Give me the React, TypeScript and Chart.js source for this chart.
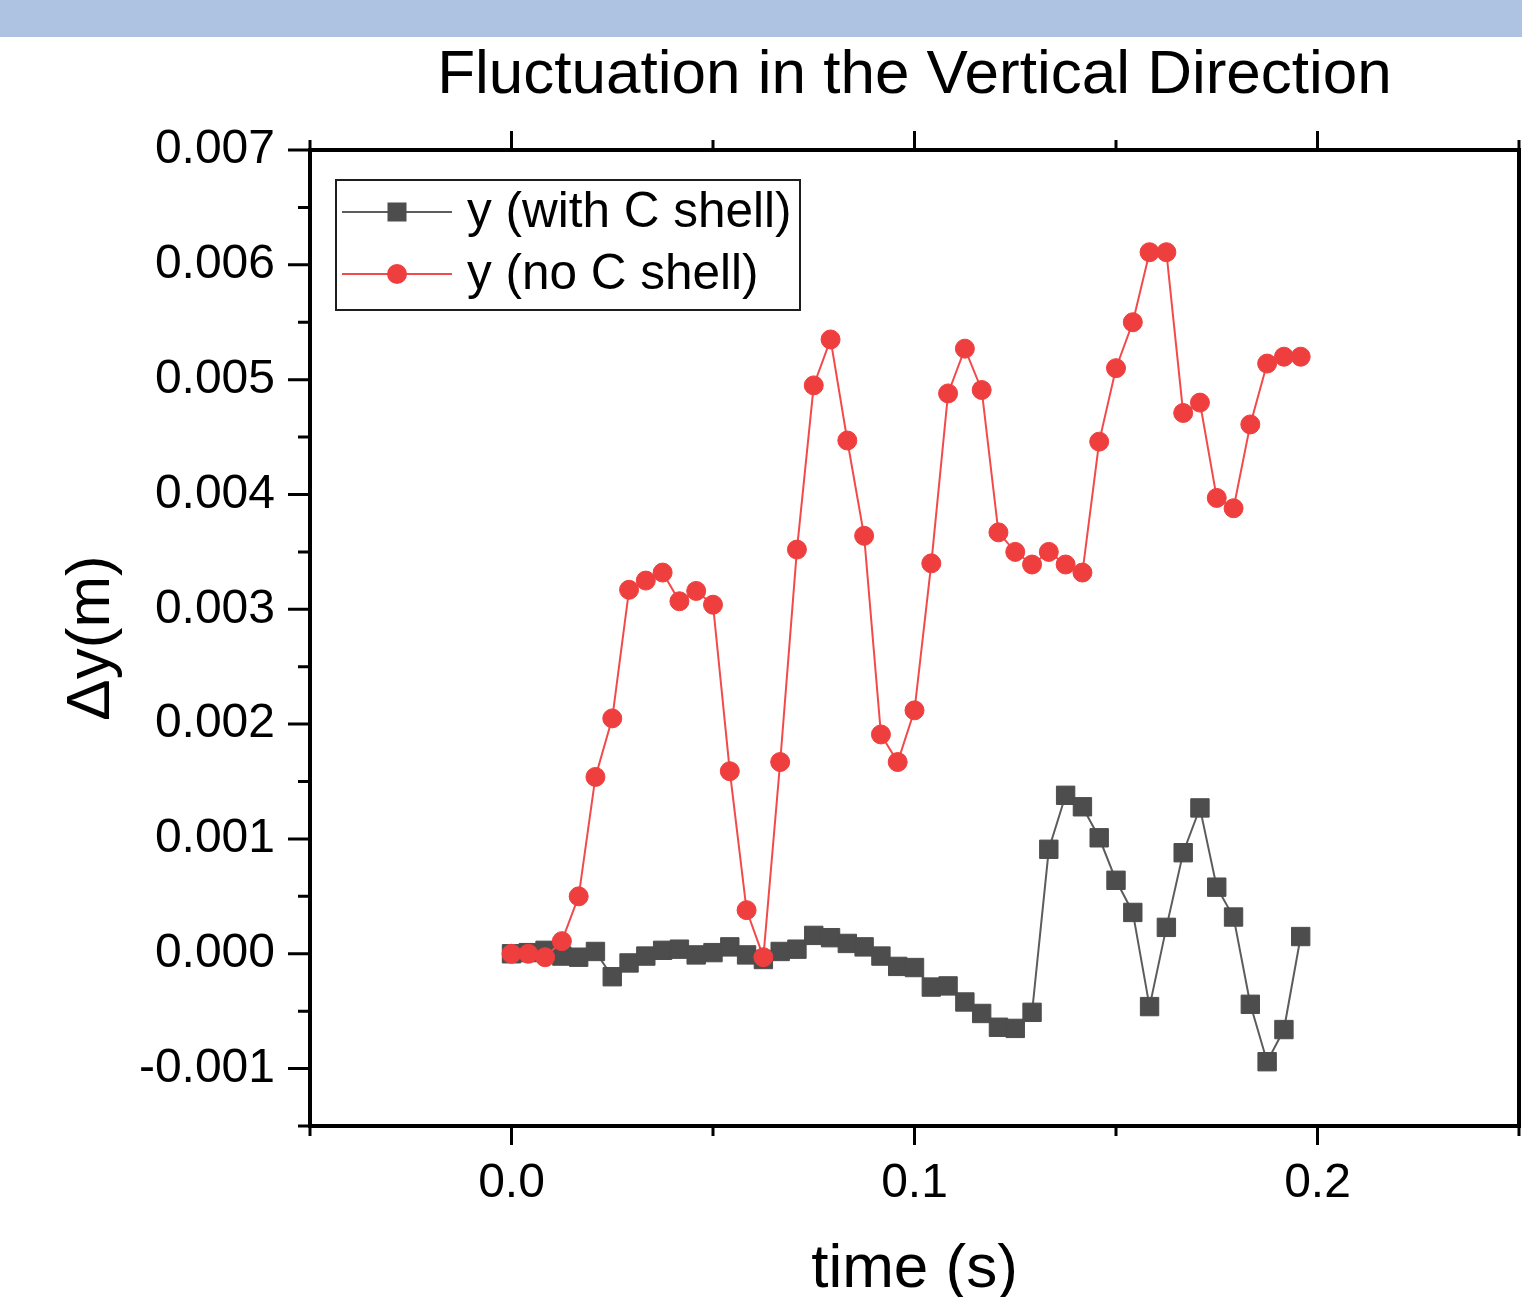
import React, { useEffect, useRef } from 'react';
import { Chart, registerables } from 'chart.js';

Chart.register(...registerables);

// ---------------- data ----------------
const TIME = [
  0, 0.00417, 0.00833, 0.0125, 0.01667, 0.02083, 0.025, 0.02917, 0.03333, 0.0375,
  0.04167, 0.04583, 0.05, 0.05417, 0.05833, 0.0625, 0.06667, 0.07083, 0.075, 0.07917,
  0.08333, 0.0875, 0.09167, 0.09583, 0.1, 0.10417, 0.10833, 0.1125, 0.11667, 0.12083,
  0.125, 0.12917, 0.13333, 0.1375, 0.14167, 0.14583, 0.15, 0.15417, 0.15833, 0.1625,
  0.16667, 0.17083, 0.175, 0.17917, 0.18333, 0.1875, 0.19167, 0.19583,
];

const Y_WITH_C_SHELL = [
  0, 0.00001, 0.00003, -0.00002, -0.00003, 0.00002, -0.0002, -0.00008, -0.00002, 0.00003,
  0.00004, -0.00001, 0.00001, 0.00006, -0.00001, -0.00005, 0.00002, 0.00004, 0.00016, 0.00014,
  0.00009, 0.00006, -0.00002, -0.00011, -0.00012, -0.00029, -0.00028, -0.00042, -0.00052, -0.00064,
  -0.00065, -0.00051, 0.00091, 0.00138, 0.00128, 0.00101, 0.00064, 0.00036, -0.00046, 0.00023,
  0.00088, 0.00127, 0.00058, 0.00032, -0.00044, -0.00094, -0.00066, 0.00015,
];

const Y_NO_C_SHELL = [
  0, 0, -0.00003, 0.00011, 0.0005, 0.00154, 0.00205, 0.00317, 0.00325, 0.00332,
  0.00307, 0.00316, 0.00304, 0.00159, 0.00038, -0.00003, 0.00167, 0.00352, 0.00495, 0.00535,
  0.00447, 0.00364, 0.00191, 0.00167, 0.00212, 0.0034, 0.00488, 0.00527, 0.00491, 0.00367,
  0.0035, 0.00339, 0.0035, 0.00339, 0.00332, 0.00446, 0.0051, 0.0055, 0.00611, 0.00611,
  0.00471, 0.0048, 0.00397, 0.00388, 0.00461, 0.00514, 0.0052, 0.0052,
];

const SERIES_LABELS = ['y (with C shell)', 'y (no C shell)'];
const X_MAJOR_TICKS = [0, 0.1, 0.2];
const X_MINOR_TICKS = [-0.05, 0.05, 0.15, 0.25];
const Y_MAJOR_TICKS = [-0.001, 0, 0.001, 0.002, 0.003, 0.004, 0.005, 0.006, 0.007];
const Y_MINOR_TICKS = [-0.0015, -0.0005, 0.0005, 0.0015, 0.0025, 0.0035, 0.0045, 0.0055, 0.0065];
const X_RANGE = [-0.05, 0.25];
const Y_RANGE = [-0.0015, 0.007];

const TITLE = 'Fluctuation in the Vertical Direction';
const X_TITLE = 'time (s)';
const Y_TITLE = 'Δy(m)';

// ---------------- styles ----------------
const FONT = 'Arial, "Liberation Sans", sans-serif';
const GRAY = '#4d4d4d';
const GRAY_LINE = '#5c5c5c';
const RED = '#ef3e3e';
const RED_LINE = '#f24a4a';

const framePlugin = {
  id: 'originFrame',
  afterDraw(chart: any) {
    const { ctx, chartArea: a, scales } = chart;
    const xs = scales.x;
    const ys = scales.y;
    const MAJ = 19;
    const MIN = 10;
    ctx.save();
    ctx.strokeStyle = '#000';
    ctx.lineWidth = 3;
    ctx.lineCap = 'butt';
    ctx.beginPath();
    const xTick = (v: number, len: number) => {
      const px = xs.getPixelForValue(v);
      ctx.moveTo(px, a.bottom);
      ctx.lineTo(px, a.bottom + len);
      ctx.moveTo(px, a.top);
      ctx.lineTo(px, a.top - len);
    };
    const yTick = (v: number, len: number) => {
      const py = ys.getPixelForValue(v);
      ctx.moveTo(a.left, py);
      ctx.lineTo(a.left - len, py);
    };
    X_MAJOR_TICKS.forEach((v) => xTick(v, MAJ));
    X_MINOR_TICKS.forEach((v) => xTick(v, MIN));
    Y_MAJOR_TICKS.forEach((v) => yTick(v, MAJ + 3));
    Y_MINOR_TICKS.forEach((v) => yTick(v, MIN + 2));
    ctx.stroke();
    ctx.lineWidth = 4;
    ctx.lineCap = 'square';
    ctx.beginPath();
    ctx.rect(a.left, a.top, a.right - a.left, a.bottom - a.top);
    ctx.stroke();
    ctx.restore();
  },
};

const legendPlugin = {
  id: 'boxLegend',
  afterDraw(chart: any) {
    const { ctx, chartArea: a } = chart;
    const left = a.left + 26;
    const top = a.top + 30;
    const w = 464;
    const h = 130;
    ctx.save();
    ctx.fillStyle = '#fff';
    ctx.fillRect(left, top, w, h);
    ctx.strokeStyle = '#1e1e1e';
    ctx.lineWidth = 2;
    ctx.strokeRect(left, top, w, h);
    ctx.font = `49.5px ${FONT}`;
    ctx.textBaseline = 'middle';
    ctx.textAlign = 'left';
    chart.data.datasets.forEach((ds: any, i: number) => {
      const y = top + 32 + i * 62;
      ctx.strokeStyle = ds.borderColor;
      ctx.lineWidth = 2;
      ctx.beginPath();
      ctx.moveTo(left + 6, y);
      ctx.lineTo(left + 116, y);
      ctx.stroke();
      ctx.fillStyle = ds.pointBackgroundColor;
      const cx = left + 61;
      if (ds.pointStyle === 'rect') {
        ctx.fillRect(cx - 9.5, y - 9.5, 19, 19);
      } else {
        ctx.beginPath();
        ctx.arc(cx, y, 10, 0, Math.PI * 2);
        ctx.fill();
      }
      ctx.fillStyle = '#000';
      ctx.fillText(ds.label, left + 131, y + 1);
    });
    ctx.restore();
  },
};

const zeroPadX = (s: any, h: number) => {
  s.height = h;
  s.paddingLeft = 0;
  s.paddingRight = 0;
  s.paddingTop = 0;
  s.paddingBottom = 0;
};

export default function App() {
  const ref = useRef<HTMLCanvasElement | null>(null);

  useEffect(() => {
    if (!ref.current) return;
    const chart = new Chart(ref.current, {
      type: 'line',
      data: {
        datasets: [
          {
            label: SERIES_LABELS[0],
            data: TIME.map((t, i) => ({ x: t, y: Y_WITH_C_SHELL[i] })),
            borderColor: GRAY_LINE,
            borderWidth: 2,
            backgroundColor: GRAY,
            pointStyle: 'rect',
            pointRadius: 13,
            pointBorderWidth: 1,
            pointBackgroundColor: GRAY,
            pointBorderColor: GRAY,
            tension: 0,
            order: 1,
          },
          {
            label: SERIES_LABELS[1],
            data: TIME.map((t, i) => ({ x: t, y: Y_NO_C_SHELL[i] })),
            borderColor: RED_LINE,
            borderWidth: 2,
            backgroundColor: RED,
            pointStyle: 'circle',
            pointRadius: 9.5,
            pointBorderWidth: 1,
            pointBackgroundColor: RED,
            pointBorderColor: RED,
            tension: 0,
            order: 0,
          },
        ],
      },
      options: {
        animation: false,
        responsive: false,
        maintainAspectRatio: false,
        layout: { autoPadding: false, padding: { top: 0, right: 3, bottom: 0, left: 0 } },
        plugins: {
          legend: { display: false },
          tooltip: { enabled: false },
          title: { display: false },
        },
        scales: {
          x: {
            type: 'linear',
            position: 'bottom',
            min: X_RANGE[0],
            max: X_RANGE[1],
            afterBuildTicks: (s: any) => {
              s.ticks = X_MAJOR_TICKS.map((v) => ({ value: v }));
            },
            afterFit: (s: any) => zeroPadX(s, 171),
            grid: { display: false, drawTicks: false },
            border: { display: false },
            ticks: {
              padding: 29,
              color: '#000',
              autoSkip: false,
              maxRotation: 0,
              font: { family: FONT, size: 48 },
              callback: (v: any) => Number(v).toFixed(1),
            },
            title: {
              display: true,
              text: X_TITLE,
              color: '#000',
              font: { family: FONT, size: 62, lineHeight: 1 },
              padding: { top: 0, bottom: -4 },
            },
          },
          xTop: {
            type: 'linear',
            position: 'top',
            min: X_RANGE[0],
            max: X_RANGE[1],
            afterFit: (s: any) => zeroPadX(s, 150),
            grid: { display: false, drawTicks: false },
            border: { display: false },
            ticks: { display: false },
            title: {
              display: true,
              text: TITLE,
              color: '#000',
              font: { family: FONT, size: 62, lineHeight: 1 },
              padding: { top: 45, bottom: 0 },
            },
          },
          y: {
            type: 'linear',
            position: 'left',
            min: Y_RANGE[0],
            max: Y_RANGE[1],
            afterBuildTicks: (s: any) => {
              s.ticks = Y_MAJOR_TICKS.map((v) => ({ value: v }));
            },
            afterFit: (s: any) => {
              s.width = 310;
              s.paddingTop = 0;
              s.paddingBottom = 0;
              s.paddingLeft = 0;
              s.paddingRight = 0;
            },
            grid: { display: false, drawTicks: false },
            border: { display: false },
            ticks: {
              padding: 35,
              color: '#000',
              autoSkip: false,
              font: { family: FONT, size: 48 },
              callback: (v: any) => Number(v).toFixed(3),
            },
            title: {
              display: true,
              text: Y_TITLE,
              color: '#000',
              font: { family: FONT, size: 62, lineHeight: 1 },
              padding: { top: 61, bottom: 0 },
            },
          },
        },
      } as any,
      plugins: [framePlugin, legendPlugin],
    });
    return () => chart.destroy();
  }, []);

  return (
    <div style={{ position: 'absolute', left: 0, top: 0, width: 1522, height: 1297, background: '#fff', overflow: 'hidden' }}>
      <canvas ref={ref} width={1522} height={1297} style={{ display: 'block', width: 1522, height: 1297 }} />
      <div style={{ position: 'absolute', left: 0, top: 0, width: 1522, height: 37, background: '#aec2e2' }} />
    </div>
  );
}
